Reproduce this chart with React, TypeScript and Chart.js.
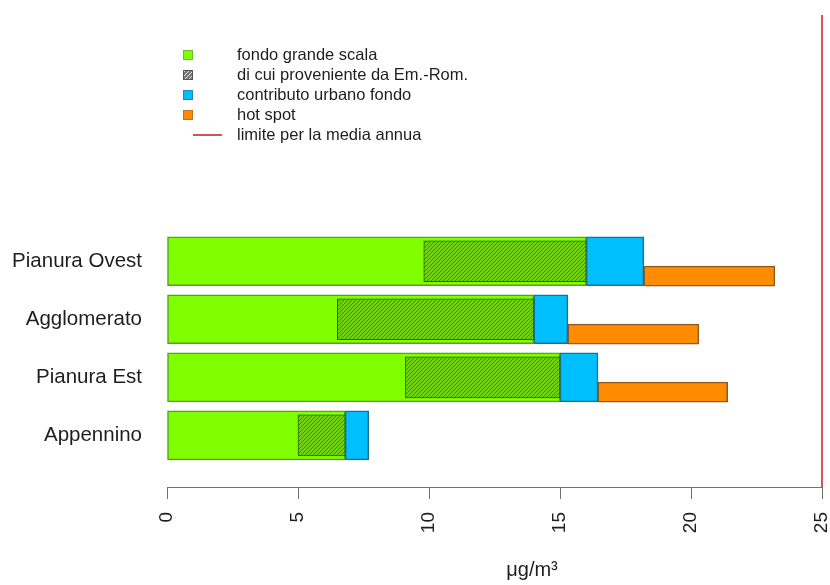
import React, { useEffect, useRef } from "react";
import { Chart, registerables } from "chart.js";

Chart.register(...registerables);

// ---- data ----
const CATEGORIES = ["Pianura Ovest", "Agglomerato", "Pianura Est", "Appennino"];
const FONDO_GRANDE_SCALA = [16.0, 14.0, 15.0, 6.8];
const DI_CUI_EM_ROM = [6.2, 7.5, 5.9, 1.8];
const CONTRIBUTO_URBANO = [2.2, 1.3, 1.45, 0.9];
const HOT_SPOT = [5.0, 5.0, 4.95, 0];
const LIMITE_MEDIA_ANNUA = 25;
const X_TICKS = [0, 5, 10, 15, 20, 25];
const LEGEND_LABELS = [
  "fondo grande scala",
  "di cui proveniente da Em.-Rom.",
  "contributo urbano fondo",
  "hot spot",
  "limite per la media annua",
];
const X_TITLE = "μg/m³";

// ---- styles ----
const FONT = '"Liberation Sans", Arial, Helvetica, sans-serif';
const TEXT = "#1e1e1e";
const GREEN = "#7FFF00";
const GREEN_BORDER = "#55a514";
const BLUE = "#00BFFF";
const BLUE_BORDER = "#1d6f96";
const ORANGE = "#FF8C00";
const ORANGE_BORDER = "#8f5a22";
const HATCH_BORDER = "#2b5e0c";
const RED = "#d2555b";
const ORANGE_SHIFT = 0.255;

export default function App() {
  const ref = useRef<HTMLCanvasElement>(null);

  useEffect(() => {
    const canvas = ref.current;
    if (!canvas) return;
    const mainCtx = canvas.getContext("2d")!;

    const makePattern = (bg: string, fg: string, size: number, lw: number) => {
      const c = document.createElement("canvas");
      c.width = size;
      c.height = size;
      const g = c.getContext("2d")!;
      g.fillStyle = bg;
      g.fillRect(0, 0, size, size);
      g.strokeStyle = fg;
      g.lineWidth = lw;
      g.beginPath();
      g.moveTo(0, size);
      g.lineTo(size, 0);
      g.moveTo(-1, 1);
      g.lineTo(1, -1);
      g.moveTo(size - 1, size + 1);
      g.lineTo(size + 1, size - 1);
      g.stroke();
      return mainCtx.createPattern(c, "repeat")!;
    };

    const hatch = makePattern("#72d218", "#3f8a10", 4, 1);
    const legendHatch = makePattern("#7a7a7a", "#dcdcdc", 4, 1);

    const rows = CATEGORIES.map((_, i) => i);
    const greenData = rows.map((i) => ({ y: i, x: [0, FONDO_GRANDE_SCALA[i]] }));
    const hatchData = rows.map((i) => ({
      y: i,
      x: [FONDO_GRANDE_SCALA[i] - DI_CUI_EM_ROM[i], FONDO_GRANDE_SCALA[i]],
    }));
    const blueData = rows.map((i) => ({
      y: i,
      x: [FONDO_GRANDE_SCALA[i], FONDO_GRANDE_SCALA[i] + CONTRIBUTO_URBANO[i]],
    }));
    const orangeData = rows
      .filter((i) => HOT_SPOT[i] > 0)
      .map((i) => {
        const s = FONDO_GRANDE_SCALA[i] + CONTRIBUTO_URBANO[i];
        return { y: i + ORANGE_SHIFT, x: [s, s + HOT_SPOT[i]] };
      });

    const overlay = {
      id: "overlay",
      afterDatasetsDraw(chart: any) {
        const { ctx, chartArea, scales } = chart;
        const x = scales.x.getPixelForValue(LIMITE_MEDIA_ANNUA);
        ctx.save();
        ctx.strokeStyle = RED;
        ctx.lineWidth = 2;
        ctx.beginPath();
        ctx.moveTo(x, chartArea.top);
        ctx.lineTo(x, chartArea.bottom);
        ctx.stroke();
        ctx.restore();
      },
      afterDraw(chart: any) {
        const { ctx } = chart;
        ctx.save();
        // legend
        const fills: any[] = [GREEN, legendHatch, BLUE, ORANGE];
        const borders = ["#6fbf2a", "#555555", "#2a86b0", "#b5742a"];
        ctx.font = `16.5px ${FONT}`;
        ctx.textBaseline = "middle";
        ctx.textAlign = "left";
        LEGEND_LABELS.forEach((label, i) => {
          const yc = 55 + 20 * i;
          if (i < 4) {
            ctx.fillStyle = fills[i];
            ctx.fillRect(183, yc - 5, 10, 10);
            ctx.strokeStyle = borders[i];
            ctx.lineWidth = 1;
            ctx.strokeRect(183.5, yc - 4.5, 9, 9);
          } else {
            ctx.strokeStyle = RED;
            ctx.lineWidth = 2;
            ctx.beginPath();
            ctx.moveTo(193, yc);
            ctx.lineTo(222, yc);
            ctx.stroke();
          }
          ctx.fillStyle = TEXT;
          ctx.fillText(label, 237, yc);
        });
        // x axis title
        ctx.font = `20px ${FONT}`;
        ctx.textAlign = "center";
        ctx.fillStyle = TEXT;
        ctx.fillText(X_TITLE, 532, 570);
        ctx.restore();
      },
    };

    const chart = new Chart(canvas, {
      type: "bar",
      data: {
        datasets: [
          {
            label: LEGEND_LABELS[1],
            data: hatchData as any,
            backgroundColor: hatch as any,
            borderColor: HATCH_BORDER,
            borderWidth: 1,
            borderSkipped: false,
            barThickness: 41,
            grouped: false,
            order: 0,
          },
          {
            label: LEGEND_LABELS[0],
            data: greenData as any,
            backgroundColor: GREEN,
            borderColor: GREEN_BORDER,
            borderWidth: 1.5,
            borderSkipped: false,
            barThickness: 49,
            grouped: false,
            order: 1,
          },
          {
            label: LEGEND_LABELS[2],
            data: blueData as any,
            backgroundColor: BLUE,
            borderColor: BLUE_BORDER,
            borderWidth: 1.5,
            borderSkipped: false,
            barThickness: 49,
            grouped: false,
            order: 1,
          },
          {
            label: LEGEND_LABELS[3],
            data: orangeData as any,
            backgroundColor: ORANGE,
            borderColor: ORANGE_BORDER,
            borderWidth: 1.5,
            borderSkipped: false,
            barThickness: 20,
            grouped: false,
            order: 1,
          },
        ],
      },
      options: {
        indexAxis: "y",
        responsive: false,
        animation: false,
        layout: { padding: { left: 0, right: 8, top: 15, bottom: 0 } },
        plugins: {
          legend: { display: false },
          tooltip: { enabled: false },
        },
        scales: {
          x: {
            type: "linear",
            position: "bottom",
            min: 0,
            max: 25,
            afterBuildTicks: (s: any) => {
              s.ticks = X_TICKS.map((v) => ({ value: v }));
            },
            ticks: {
              minRotation: 90,
              maxRotation: 90,
              padding: 13,
              color: TEXT,
              font: { size: 19, family: FONT },
              callback: (v: any) => String(v),
            },
            grid: {
              display: true,
              drawOnChartArea: false,
              drawTicks: true,
              tickLength: 12,
              color: "#707070",
              lineWidth: 1,
            },
            border: { display: true, color: "#707070", width: 1 },
            afterFit: (s: any) => {
              s.height = 98;
              s.paddingLeft = 0;
              s.paddingRight = 0;
            },
          },
          y: {
            type: "linear",
            reverse: true,
            offset: false,
            min: -4.245,
            max: 3.891,
            afterBuildTicks: (s: any) => {
              s.ticks = CATEGORIES.map((_, i) => ({ value: i }));
            },
            ticks: {
              padding: 25,
              color: TEXT,
              font: { size: 20.5, family: FONT },
              autoSkip: false,
              callback: (v: any) => CATEGORIES[v as number],
            },
            grid: { display: false, drawTicks: false, offset: false },
            border: { display: false },
            afterFit: (s: any) => {
              s.width = 167;
              s.paddingTop = 0;
              s.paddingBottom = 0;
            },
          },
        },
      } as any,
      plugins: [overlay],
    });

    return () => chart.destroy();
  }, []);

  return (
    <div style={{ position: "absolute", left: 0, top: 0, width: 830, height: 585, background: "#fff" }}>
      <canvas ref={ref} width={830} height={585} />
    </div>
  );
}
